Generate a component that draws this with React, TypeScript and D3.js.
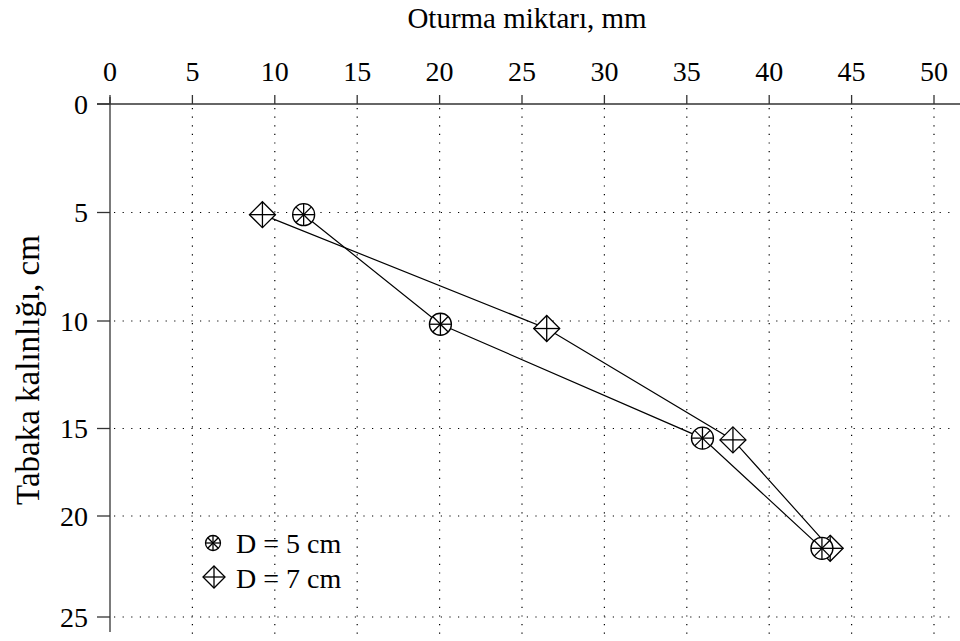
import React from "react";
import * as d3 from "d3";

// Settlement (mm) against layer thickness (cm) for two plate diameters
const thickness5 = [5.1, 10.15, 15.55, 21.6];
const settlement5 = [11.75, 20.05, 35.95, 43.2];
const thickness7 = [5.1, 10.35, 15.65, 21.6];
const settlement7 = [9.25, 26.5, 37.8, 43.7];

const xTicks = [0, 5, 10, 15, 20, 25, 30, 35, 40, 45, 50];
const yTicks = [0, 5, 10, 15, 20, 25];
const yTickPixels = [104, 212.5, 321, 428.5, 516, 617];

const legendLabels = ["D = 5 cm", "D = 7 cm"];

const W = 960;
const H = 641;
const FONT = "'Liberation Serif', 'Times New Roman', Times, serif";

const x = d3.scaleLinear().domain([0, 50]).range([110, 934]);
// the printed depth axis is not evenly spaced, so it is mapped piecewise
const y = d3.scaleLinear().domain(yTicks).range(yTickPixels);

function CircleStar({ cx, cy, r }: { cx: number; cy: number; r: number }) {
  const d = r * Math.SQRT1_2;
  return (
    <g stroke="#000" strokeWidth={1.3}>
      <circle cx={cx} cy={cy} r={r} fill="#fff" />
      <line x1={cx - r} y1={cy} x2={cx + r} y2={cy} />
      <line x1={cx} y1={cy - r} x2={cx} y2={cy + r} />
      <line x1={cx - d} y1={cy - d} x2={cx + d} y2={cy + d} />
      <line x1={cx - d} y1={cy + d} x2={cx + d} y2={cy - d} />
    </g>
  );
}

function DiamondCross({ cx, cy, r }: { cx: number; cy: number; r: number }) {
  return (
    <g stroke="#000" strokeWidth={1.3}>
      <path
        d={`M${cx},${cy - r}L${cx + r},${cy}L${cx},${cy + r}L${cx - r},${cy}Z`}
        fill="#fff"
      />
      <line x1={cx - r} y1={cy} x2={cx + r} y2={cy} />
      <line x1={cx} y1={cy - r} x2={cx} y2={cy + r} />
    </g>
  );
}

export default function App() {
  const pts5 = settlement5.map((s, i) => [x(s), y(thickness5[i])] as [number, number]);
  const pts7 = settlement7.map((s, i) => [x(s), y(thickness7[i])] as [number, number]);
  const line = d3.line();
  const top = y(0);

  return (
    <svg
      width={W}
      height={H}
      style={{ position: "absolute", left: 0, top: 0, background: "#fff" }}
      fontFamily={FONT}
    >
      <rect width={W} height={H} fill="#fff" />

      {/* dotted grid */}
      <g stroke="#000" strokeWidth={1.2} strokeDasharray="1.2 7.4">
        {xTicks.slice(1).map((t) => (
          <line key={`gx${t}`} x1={x(t)} x2={x(t)} y1={top + 4} y2={H} />
        ))}
        {yTicks.slice(1).map((t) => (
          <line key={`gy${t}`} x1={x(0) + 4} x2={952} y1={y(t)} y2={y(t)} />
        ))}
      </g>

      {/* axes */}
      <g stroke="#333" strokeWidth={1.3}>
        <line x1={97} x2={W} y1={top} y2={top} />
        <line x1={x(0)} x2={x(0)} y1={top - 7} y2={632} />
        {xTicks.map((t) => (
          <line key={`tx${t}`} x1={x(t)} x2={x(t)} y1={top - 9} y2={top} />
        ))}
        {yTicks.map((t) => (
          <line key={`ty${t}`} x1={97} x2={x(0)} y1={y(t)} y2={y(t)} />
        ))}
      </g>

      {/* tick labels */}
      <g fontSize={28} fill="#000">
        {xTicks.map((t) => (
          <text key={`lx${t}`} x={x(t)} y={81} textAnchor="middle">
            {t}
          </text>
        ))}
        {yTicks.map((t) => (
          <text key={`ly${t}`} x={88} y={y(t) + 9.5} textAnchor="end">
            {t}
          </text>
        ))}
      </g>

      {/* axis titles */}
      <text x={527} y={28} fontSize={29} textAnchor="middle">
        Oturma miktarı, mm
      </text>
      <text
        transform="translate(39,370) rotate(-90)"
        fontSize={33}
        textAnchor="middle"
      >
        Tabaka kalınlığı, cm
      </text>

      {/* series lines */}
      <path d={line(pts5) ?? ""} fill="none" stroke="#000" strokeWidth={1.2} />
      <path d={line(pts7) ?? ""} fill="none" stroke="#000" strokeWidth={1.2} />

      {/* markers */}
      {pts7.map(([px, py], i) => (
        <DiamondCross key={`m7${i}`} cx={px} cy={py} r={13} />
      ))}
      {pts5.map(([px, py], i) => (
        <CircleStar key={`m5${i}`} cx={px} cy={py} r={11} />
      ))}

      {/* legend */}
      <CircleStar cx={213} cy={543} r={7.5} />
      <text x={236} y={553} fontSize={28}>
        {legendLabels[0]}
      </text>
      <DiamondCross cx={214} cy={577} r={11} />
      <text x={236} y={588} fontSize={28}>
        {legendLabels[1]}
      </text>
    </svg>
  );
}
